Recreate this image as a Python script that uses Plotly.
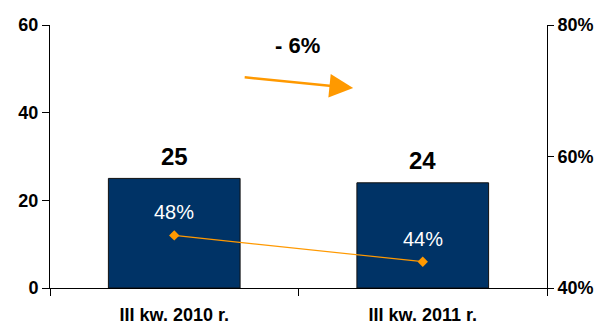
import plotly.graph_objects as go

# Quarterly values (left axis) and share (right axis)
categories = ["III kw. 2010 r.", "III kw. 2011 r."]
values = [25, 24]
shares = [0.48, 0.44]
change_label = "- 6%"

NAVY = "#003366"
ORANGE = "#FF9900"
FONT = "Arial, Liberation Sans, sans-serif"

fig = go.Figure()

fig.add_trace(go.Bar(
    x=categories, y=values,
    marker=dict(color=NAVY, line=dict(color="#111111", width=1)),
    width=0.53,
    hoverinfo="skip",
))

fig.add_trace(go.Scatter(
    x=categories, y=shares, yaxis="y2",
    mode="lines+markers",
    line=dict(color=ORANGE, width=1.2),
    marker=dict(symbol="diamond", size=8, color=ORANGE),
    hoverinfo="skip",
))

# Value labels above the bars
for c, v in zip(categories, values):
    fig.add_annotation(
        x=c, y=v, text=f"<b>{v}</b>", showarrow=False,
        yanchor="middle", yshift=22,
        font=dict(family=FONT, size=24, color="black"),
    )

# Share labels above the markers
for c, s in zip(categories, shares):
    fig.add_annotation(
        x=c, y=s, yref="y2", text=f"{s:.0%}", showarrow=False,
        yanchor="middle", yshift=23,
        font=dict(family=FONT, size=20, color="white"),
    )

# Trend arrow with percentage change
fig.add_annotation(
    x=0.72, y=45.6, ax=-110, ay=-11, axref="pixel", ayref="pixel",
    text="", showarrow=True, arrowhead=2, arrowsize=1.9,
    arrowwidth=2.5, arrowcolor=ORANGE,
)
fig.add_annotation(
    x=0.494, y=55.4, text=f"<b>{change_label}</b>", showarrow=False,
    yanchor="middle",
    font=dict(family=FONT, size=22, color="black"),
)

fig.update_layout(
    width=601, height=324,
    margin=dict(l=50, r=54, t=25, b=36),
    paper_bgcolor="white", plot_bgcolor="white",
    showlegend=False,
    bargap=0.47,
    xaxis=dict(
        type="category", range=[-0.5, 1.5], automargin=False,
        showline=True, linecolor="black", linewidth=1,
        ticks="outside", tickson="boundaries", ticklen=7, tickcolor="black",
        ticklabelstandoff=10,
        tickfont=dict(family=FONT, size=18, color="black", weight="bold"),
        showgrid=False, zeroline=False,
    ),
    yaxis=dict(
        range=[0, 60], tickvals=[0, 20, 40, 60], automargin=False,
        showline=True, linecolor="black", linewidth=1,
        ticks="outside", ticklen=7, tickcolor="black",
        tickfont=dict(family=FONT, size=18, color="black", weight="bold"),
        showgrid=False, zeroline=False,
    ),
    yaxis2=dict(
        overlaying="y", side="right", automargin=False,
        range=[0.4, 0.8], tickvals=[0.4, 0.6, 0.8], tickformat=".0%",
        showline=True, linecolor="black", linewidth=1,
        ticks="outside", ticklen=6, tickcolor="black",
        tickfont=dict(family=FONT, size=18, color="black", weight="bold"),
        showgrid=False, zeroline=False,
    ),
)

fig.write_html("out.html")
